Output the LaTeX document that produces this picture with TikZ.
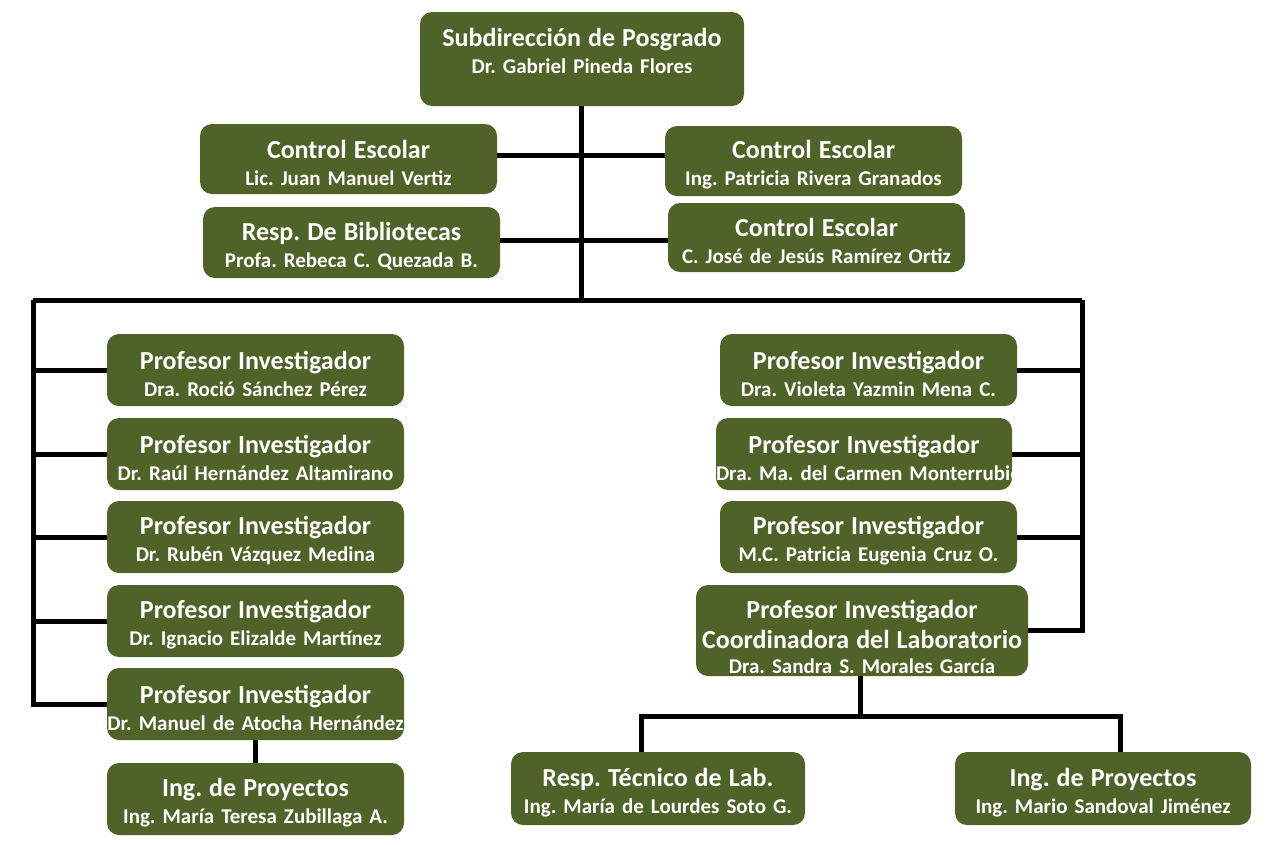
\documentclass[tikz,border=0pt]{standalone}
\usepackage{fontspec}
\setmainfont{Carlito}
\usepackage{xcolor}
\usepackage{tikz}
\usetikzlibrary{positioning, calc}
\definecolor{posgreen}{HTML}{4F6228}
\newcommand{\puesto}[2]{{\fontsize{26}{27}\selectfont\rule{0pt}{26pt}#1}\\\mbox{#2}}

\begin{document}
\begin{tikzpicture}[
    x=1pt, y=-1pt,
    unit/.style={fill=posgreen, rounded corners=12pt, text=white,
                 font=\bfseries\fontsize{21}{27}\selectfont\frenchspacing,
                 align=center, inner sep=0pt, minimum width=297pt, minimum height=72pt,
                 text width=297pt},
    link/.style={line width=5pt, draw=black},
]
\useasboundingbox (0,0) rectangle (1266,844);

% Subdireccion (top)
\node[unit, minimum width=324pt, text width=324pt, minimum height=94pt, text depth=52pt] (sub) at (582,59)
  {\puesto{Subdirección de Posgrado}{Dr. Gabriel Pineda Flores}};

% Staff beside the trunk
\node[unit, minimum height=70pt] (ceA) at (348.5,159) {\puesto{Control Escolar}{Lic. Juan Manuel Vertiz}};
\node[unit, minimum height=70pt] (ceB) at (813.5,161) {\puesto{Control Escolar}{Ing. Patricia Rivera Granados}};
\node[unit, minimum height=71pt] (bib) at (351.5,242.5) {\puesto{Resp. De Bibliotecas}{Profa. Rebeca C. Quezada B.}};
\node[unit, minimum height=69pt] (ceC) at (816.5,237.5) {\puesto{Control Escolar}{C. José de Jesús Ramírez Ortiz}};

% Left column of researchers
\node[unit] (piA) at (255.5,370) {\puesto{Profesor Investigador}{Dra. Roció Sánchez Pérez}};
\node[unit] (piB) at (255.5,454) {\puesto{Profesor Investigador}{Dr. Raúl Hernández Altamirano}};
\node[unit] (piC) at (255.5,537) {\puesto{Profesor Investigador}{Dr. Rubén Vázquez Medina}};
\node[unit] (piD) at (255.5,621) {\puesto{Profesor Investigador}{Dr. Ignacio Elizalde Martínez}};
\node[unit] (piE) at (255.5,704) {\puesto{Profesor Investigador}{Dr. Manuel de Atocha Hernández}};
\node[unit] (ingA) at (255.5,799) {\puesto{Ing. de Proyectos}{Ing. María Teresa Zubillaga A.}};

% Right column of researchers
\node[unit] (piF) at (868.5,370) {\puesto{Profesor Investigador}{Dra. Violeta Yazmin Mena C.}};
\node[unit, minimum width=296pt, text width=296pt] (piG) at (864,454) {\puesto{Profesor Investigador}{Dra. Ma. del Carmen Monterrubio}};
\node[unit] (piH) at (868.5,537) {\puesto{Profesor Investigador}{M.C. Patricia Eugenia Cruz O.}};
\node[unit, minimum width=332pt, text width=332pt, minimum height=91pt] (lab) at (862,630.5)
  {{\fontsize{26}{27}\selectfont\rule{0pt}{31pt}Profesor Investigador\\[3pt] Coordinadora del Laboratorio}\\[-2pt]{Dra. Sandra S. Morales García}};

% Laboratory staff
\node[unit, minimum width=294pt, text width=294pt, minimum height=73pt] (tec) at (658,788.5) {\puesto{Resp. Técnico de Lab.}{Ing. María de Lourdes Soto G.}};
\node[unit, minimum width=296pt, text width=296pt, minimum height=73pt] (ingB) at (1103,788.5) {\puesto{Ing. de Proyectos}{Ing. Mario Sandoval Jiménez}};

% Connectors
\coordinate (bus) at (581,300);
\coordinate (busL) at (33,300);
\coordinate (busR) at (1082,300);
\coordinate (labbus) at (860,716);

\draw[link] (sub.south -| bus) -- (bus);
\draw[link] (ceA.east |- 0,155) -- (ceB.west |- 0,155);
\draw[link] (bib.east |- 0,240) -- (ceC.west |- 0,240);
\draw[link] (busL) -- (busR);
\draw[link] (busL) |- (piE.west);
\foreach \n in {piA, piB, piC, piD}
  \draw[link] (\n.west) -- (\n.west -| busL);
\draw[link] (busR) |- (lab.east);
\foreach \n in {piF, piG, piH}
  \draw[link] (\n.east) -- (\n.east -| busR);
\draw[link] (piE.south) -- (ingA.north);
\draw[link] (lab.south -| labbus) -- (labbus);
\draw[link] ([xshift=-17pt]tec.north) |- (labbus) -| ([xshift=17pt]ingB.north);

\end{tikzpicture}
\end{document}
